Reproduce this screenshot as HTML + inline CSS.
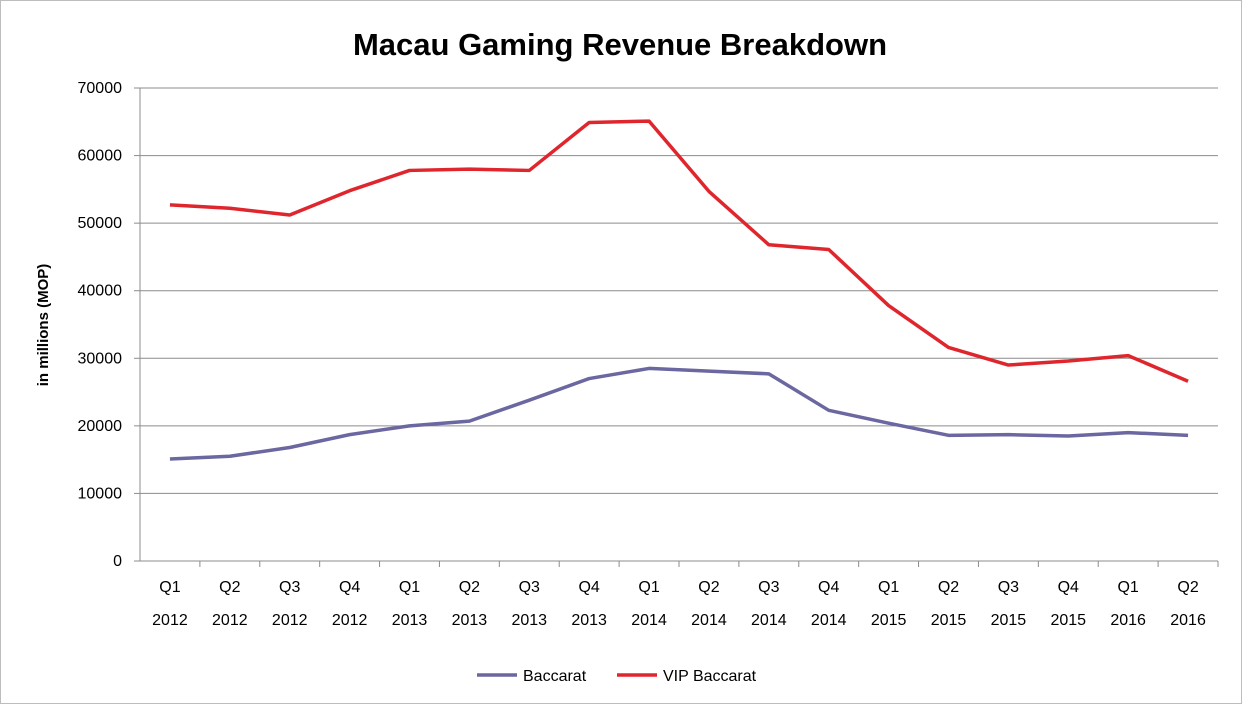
<!DOCTYPE html>
<html><head><meta charset="utf-8"><style>
body{margin:0;background:#fff;}
svg text{font-family:"Liberation Sans",sans-serif;fill:#000;}
</style></head><body>
<svg id="chart" width="1242" height="705" xmlns="http://www.w3.org/2000/svg">
<rect x="0.5" y="0.5" width="1241" height="703" fill="#fff" stroke="#bdbdbd"/>
<text x="620" y="55" text-anchor="middle" font-size="31" font-weight="bold">Macau Gaming Revenue Breakdown</text>
<text transform="translate(48,325) rotate(-90)" text-anchor="middle" font-size="15" font-weight="bold">in millions (MOP)</text>
<g id="grid"></g><g id="axes"></g><g id="series"></g>
<g>
<line x1="477" y1="675" x2="517" y2="675" stroke="#6b67a0" stroke-width="3.5"/>
<text x="523" y="681" font-size="16">Baccarat</text>
<line x1="617" y1="675" x2="657" y2="675" stroke="#e0262d" stroke-width="3.5"/>
<text x="663" y="681" font-size="16">VIP Baccarat</text>
</g>
</svg>
<script>
const quarters=["Q1","Q2","Q3","Q4","Q1","Q2","Q3","Q4","Q1","Q2","Q3","Q4","Q1","Q2","Q3","Q4","Q1","Q2"];
const years=["2012","2012","2012","2012","2013","2013","2013","2013","2014","2014","2014","2014","2015","2015","2015","2015","2016","2016"];
const baccarat=[15100,15500,16800,18700,20000,20700,23800,27000,28500,28100,27700,22300,20400,18600,18700,18500,19000,18600];
const vipBaccarat=[52700,52200,51200,54800,57800,58000,57800,64900,65100,54700,46800,46100,37800,31600,29000,29600,30400,26600];
const yTicks=[0,10000,20000,30000,40000,50000,60000,70000];
const NS="http://www.w3.org/2000/svg";
const L=140,R=1218,T=88,B=561,yMax=70000;
const bw=(R-L)/quarters.length;
const x=i=>L+bw*(i+0.5);
const y=v=>B-(v/yMax)*(B-T);
function mk(tag,attrs,parent,txt){const e=document.createElementNS(NS,tag);for(const k in attrs)e.setAttribute(k,attrs[k]);if(txt!==undefined)e.textContent=txt;document.getElementById(parent).appendChild(e);return e;}
yTicks.forEach(v=>{
 if(v>0){const g=mk("line",{x1:L,x2:R,y1:y(v),y2:y(v),stroke:"#8c8c8c","stroke-width":1},"grid");
 
 }
 const t=mk("text",{x:L-18,y:y(v)+5,"text-anchor":"end","font-size":16},"axes",v);
 
 
 const tk=mk("line",{x1:L-6,x2:L,y1:y(v),y2:y(v),stroke:"#8c8c8c"},"axes");
 
 
});
const ya=mk("line",{x1:L,x2:L,y1:T,y2:B,stroke:"#8c8c8c"},"axes");


const xa=mk("line",{x1:L,x2:R,y1:B,y2:B,stroke:"#8c8c8c"},"axes");


quarters.forEach((q,i)=>{
 const tk=mk("line",{x1:L+bw*(i+1),x2:L+bw*(i+1),y1:B,y2:B+6,stroke:"#8c8c8c"},"axes");
 
 
 const t1=mk("text",{x:x(i),y:B+31,"text-anchor":"middle","font-size":16},"axes",q);
 
 
 const t2=mk("text",{x:x(i),y:B+64,"text-anchor":"middle","font-size":16},"axes",years[i]);
 
 
});
function line(data,color,name){
 const p=mk("polyline",{points:data.map((v,i)=>x(i)+","+y(v)).join(" "),fill:"none",stroke:color,"stroke-width":3.5,"stroke-linejoin":"round"},"series");
 
 
}
line(baccarat,"#6b67a0","baccarat-line");
line(vipBaccarat,"#e0262d","vip-baccarat-line");
</script>
</body></html>
